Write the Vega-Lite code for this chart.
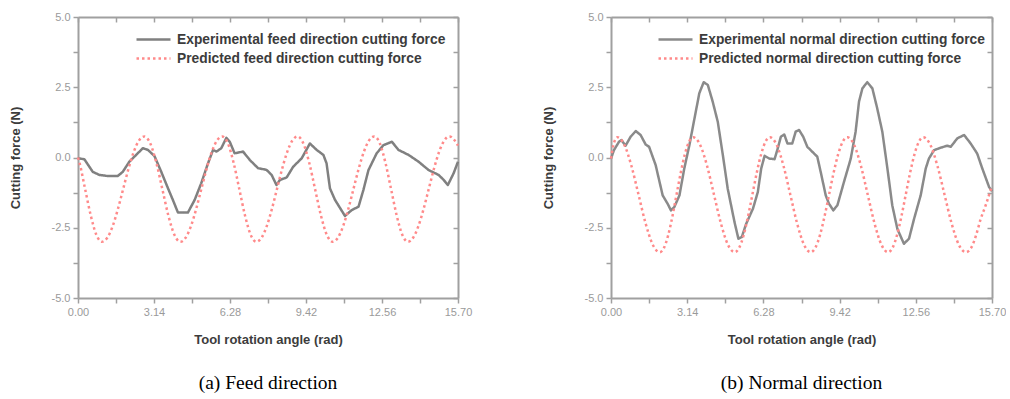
{
  "$schema": "https://vega.github.io/schema/vega-lite/v6.json",
  "background": "white",
  "padding": {"left": 9, "top": 11, "right": 0, "bottom": 0},
  "spacing": 70,
  "config": {
    "view": {"stroke": null},
    "axis": {
      "labelFont": "Liberation Sans", "labelFontSize": 11, "labelColor": "#9a9a9a",
      "titleFont": "Liberation Sans", "titleFontSize": 13, "titleFontWeight": "bold", "titleColor": "#3c3c3c",
      "domainColor": "#a0a0a0", "domainWidth": 2, "tickColor": "#a0a0a0", "tickWidth": 1.5, "tickSize": 5,
      "grid": false, "labelFlush": false, "labelOverlap": false, "labelPadding": 3
    },
    "legend": {
      "orient": "none", "title": null, "labelFont": "Liberation Sans", "labelFontSize": 13.8, "labelFontWeight": "bold",
      "labelColor": "#3c3c3c", "symbolType": "M-2,0H2", "symbolSize": 289, "symbolStrokeWidth": 2.5,
      "symbolFillColor": "transparent", "labelLimit": 400, "rowPadding": 2, "padding": 0, "labelOffset": 13.5
    },
    "title": {"font": "Liberation Serif", "fontSize": 19.5, "fontWeight": "normal", "color": "#000000"}
  },
  "datasets": {
    "feedExp": [
      {"angle": 0, "force": -0.03}, {"angle": 0.26, "force": -0.06}, {"angle": 0.47, "force": -0.33}, {"angle": 0.61, "force": -0.51},
      {"angle": 0.88, "force": -0.62}, {"angle": 1.23, "force": -0.66}, {"angle": 1.64, "force": -0.66}, {"angle": 1.85, "force": -0.51},
      {"angle": 2.12, "force": -0.15}, {"angle": 2.4, "force": 0.09}, {"angle": 2.68, "force": 0.33}, {"angle": 2.89, "force": 0.27},
      {"angle": 3.16, "force": 0.05}, {"angle": 3.44, "force": -0.51}, {"angle": 3.72, "force": -1.1}, {"angle": 3.92, "force": -1.51},
      {"angle": 4.13, "force": -1.96}, {"angle": 4.54, "force": -1.96}, {"angle": 4.82, "force": -1.51}, {"angle": 5.09, "force": -0.92},
      {"angle": 5.37, "force": -0.21}, {"angle": 5.58, "force": 0.27}, {"angle": 5.72, "force": 0.21}, {"angle": 5.92, "force": 0.33},
      {"angle": 6.13, "force": 0.7}, {"angle": 6.27, "force": 0.56}, {"angle": 6.47, "force": 0.15}, {"angle": 6.82, "force": 0.21},
      {"angle": 7.1, "force": -0.09}, {"angle": 7.44, "force": -0.38}, {"angle": 7.79, "force": -0.44}, {"angle": 8.0, "force": -0.62},
      {"angle": 8.2, "force": -0.98}, {"angle": 8.34, "force": -0.8}, {"angle": 8.62, "force": -0.71}, {"angle": 8.89, "force": -0.33},
      {"angle": 9.24, "force": -0.03}, {"angle": 9.58, "force": 0.5}, {"angle": 9.86, "force": 0.27}, {"angle": 10.14, "force": 0.09},
      {"angle": 10.27, "force": -0.21}, {"angle": 10.41, "force": -1.1}, {"angle": 10.62, "force": -1.51}, {"angle": 11.03, "force": -2.08},
      {"angle": 11.31, "force": -1.87}, {"angle": 11.59, "force": -1.75}, {"angle": 11.79, "force": -1.16}, {"angle": 12.0, "force": -0.45},
      {"angle": 12.34, "force": 0.15}, {"angle": 12.62, "force": 0.44}, {"angle": 12.97, "force": 0.56}, {"angle": 13.24, "force": 0.27},
      {"angle": 13.66, "force": 0.09}, {"angle": 14.07, "force": -0.15}, {"angle": 14.49, "force": -0.45}, {"angle": 14.9, "force": -0.62},
      {"angle": 15.11, "force": -0.8}, {"angle": 15.28, "force": -0.98}, {"angle": 15.52, "force": -0.56}, {"angle": 15.7, "force": -0.15}
    ],
    "feedPred": [
      {"angle": 0, "force": 0.0}, {"angle": 0.063, "force": -0.188}, {"angle": 0.295, "force": -1.125}, {"angle": 0.527, "force": -2.063},
      {"angle": 0.758, "force": -2.749}, {"angle": 0.99, "force": -3.0}, {"angle": 1.209, "force": -2.857}, {"angle": 1.428, "force": -2.451},
      {"angle": 1.646, "force": -1.843}, {"angle": 1.865, "force": -1.125}, {"angle": 2.084, "force": -0.407}, {"angle": 2.303, "force": 0.201},
      {"angle": 2.521, "force": 0.607}, {"angle": 2.74, "force": 0.75}, {"angle": 2.988, "force": 0.499}, {"angle": 3.237, "force": -0.188},
      {"angle": 3.485, "force": -1.125}, {"angle": 3.733, "force": -2.063}, {"angle": 3.982, "force": -2.749}, {"angle": 4.23, "force": -3.0},
      {"angle": 4.446, "force": -2.857}, {"angle": 4.663, "force": -2.451}, {"angle": 4.879, "force": -1.843}, {"angle": 5.095, "force": -1.125},
      {"angle": 5.311, "force": -0.407}, {"angle": 5.528, "force": 0.201}, {"angle": 5.744, "force": 0.607}, {"angle": 5.96, "force": 0.75},
      {"angle": 6.195, "force": 0.499}, {"angle": 6.43, "force": -0.188}, {"angle": 6.665, "force": -1.125}, {"angle": 6.9, "force": -2.063},
      {"angle": 7.135, "force": -2.749}, {"angle": 7.37, "force": -3.0}, {"angle": 7.583, "force": -2.857}, {"angle": 7.795, "force": -2.451},
      {"angle": 8.008, "force": -1.843}, {"angle": 8.22, "force": -1.125}, {"angle": 8.433, "force": -0.407}, {"angle": 8.645, "force": 0.201},
      {"angle": 8.858, "force": 0.607}, {"angle": 9.07, "force": 0.75}, {"angle": 9.312, "force": 0.499}, {"angle": 9.553, "force": -0.188},
      {"angle": 9.795, "force": -1.125}, {"angle": 10.037, "force": -2.063}, {"angle": 10.278, "force": -2.749}, {"angle": 10.52, "force": -3.0},
      {"angle": 10.735, "force": -2.857}, {"angle": 10.95, "force": -2.451}, {"angle": 11.165, "force": -1.843}, {"angle": 11.38, "force": -1.125},
      {"angle": 11.595, "force": -0.407}, {"angle": 11.81, "force": 0.201}, {"angle": 12.025, "force": 0.607}, {"angle": 12.24, "force": 0.75},
      {"angle": 12.472, "force": 0.499}, {"angle": 12.703, "force": -0.188}, {"angle": 12.935, "force": -1.125}, {"angle": 13.167, "force": -2.063},
      {"angle": 13.398, "force": -2.749}, {"angle": 13.63, "force": -3.0}, {"angle": 13.845, "force": -2.857}, {"angle": 14.06, "force": -2.451},
      {"angle": 14.275, "force": -1.843}, {"angle": 14.49, "force": -1.125}, {"angle": 14.705, "force": -0.407}, {"angle": 14.92, "force": 0.201},
      {"angle": 15.135, "force": 0.607}, {"angle": 15.35, "force": 0.75}, {"angle": 15.55, "force": 0.62}, {"angle": 15.7, "force": 0.42}
    ],
    "normalExp": [
      {"angle": 0, "force": -0.04}, {"angle": 0.12, "force": 0.26}, {"angle": 0.33, "force": 0.56}, {"angle": 0.43, "force": 0.62},
      {"angle": 0.6, "force": 0.42}, {"angle": 0.81, "force": 0.74}, {"angle": 1.02, "force": 0.94}, {"angle": 1.22, "force": 0.8},
      {"angle": 1.43, "force": 0.46}, {"angle": 1.57, "force": 0.38}, {"angle": 1.84, "force": -0.27}, {"angle": 2.13, "force": -1.35},
      {"angle": 2.33, "force": -1.64}, {"angle": 2.47, "force": -1.88}, {"angle": 2.61, "force": -1.76}, {"angle": 2.82, "force": -1.35},
      {"angle": 3.02, "force": -0.39}, {"angle": 3.23, "force": 0.44}, {"angle": 3.44, "force": 1.39}, {"angle": 3.64, "force": 2.29},
      {"angle": 3.82, "force": 2.68}, {"angle": 3.99, "force": 2.58}, {"angle": 4.19, "force": 1.99}, {"angle": 4.4, "force": 1.27},
      {"angle": 4.61, "force": 0.08}, {"angle": 4.81, "force": -1.11}, {"angle": 5.09, "force": -2.3}, {"angle": 5.25, "force": -2.89},
      {"angle": 5.39, "force": -2.83}, {"angle": 5.57, "force": -2.36}, {"angle": 5.85, "force": -1.82}, {"angle": 6.05, "force": -1.23},
      {"angle": 6.19, "force": -0.39}, {"angle": 6.33, "force": 0.06}, {"angle": 6.53, "force": -0.04}, {"angle": 6.74, "force": -0.06},
      {"angle": 6.87, "force": 0.32}, {"angle": 7.0, "force": 0.74}, {"angle": 7.14, "force": 0.82}, {"angle": 7.27, "force": 0.5},
      {"angle": 7.47, "force": 0.5}, {"angle": 7.61, "force": 0.92}, {"angle": 7.75, "force": 0.98}, {"angle": 7.92, "force": 0.74},
      {"angle": 8.09, "force": 0.38}, {"angle": 8.37, "force": 0.14}, {"angle": 8.5, "force": 0.03}, {"angle": 8.64, "force": -0.51},
      {"angle": 8.85, "force": -1.35}, {"angle": 8.98, "force": -1.64}, {"angle": 9.16, "force": -1.88}, {"angle": 9.33, "force": -1.7},
      {"angle": 9.6, "force": -0.87}, {"angle": 9.88, "force": -0.04}, {"angle": 10.08, "force": 0.92}, {"angle": 10.22, "force": 1.99},
      {"angle": 10.36, "force": 2.46}, {"angle": 10.56, "force": 2.68}, {"angle": 10.77, "force": 2.46}, {"angle": 10.97, "force": 1.75},
      {"angle": 11.18, "force": 0.92}, {"angle": 11.39, "force": -0.39}, {"angle": 11.59, "force": -1.7}, {"angle": 11.8, "force": -2.54},
      {"angle": 12.07, "force": -3.07}, {"angle": 12.28, "force": -2.89}, {"angle": 12.49, "force": -2.18}, {"angle": 12.76, "force": -1.35},
      {"angle": 12.97, "force": -0.39}, {"angle": 13.1, "force": -0.04}, {"angle": 13.31, "force": 0.26}, {"angle": 13.59, "force": 0.35},
      {"angle": 13.86, "force": 0.42}, {"angle": 14.0, "force": 0.38}, {"angle": 14.27, "force": 0.68}, {"angle": 14.55, "force": 0.8},
      {"angle": 14.82, "force": 0.5}, {"angle": 15.09, "force": 0.14}, {"angle": 15.3, "force": -0.39}, {"angle": 15.58, "force": -1.05},
      {"angle": 15.7, "force": -1.2}
    ],
    "normalPred": [
      {"angle": 0, "force": -0.04}, {"angle": 0.1, "force": 0.45}, {"angle": 0.26, "force": 0.72}, {"angle": 0.552, "force": 0.446},
      {"angle": 0.843, "force": -0.303}, {"angle": 1.135, "force": -1.325}, {"angle": 1.427, "force": -2.348}, {"angle": 1.718, "force": -3.096},
      {"angle": 2.01, "force": -3.37}, {"angle": 2.183, "force": -3.215}, {"angle": 2.355, "force": -2.771}, {"angle": 2.528, "force": -2.108},
      {"angle": 2.7, "force": -1.325}, {"angle": 2.873, "force": -0.542}, {"angle": 3.045, "force": 0.121}, {"angle": 3.218, "force": 0.565},
      {"angle": 3.39, "force": 0.72}, {"angle": 3.675, "force": 0.446}, {"angle": 3.96, "force": -0.303}, {"angle": 4.245, "force": -1.325},
      {"angle": 4.53, "force": -2.348}, {"angle": 4.815, "force": -3.096}, {"angle": 5.1, "force": -3.37}, {"angle": 5.281, "force": -3.215},
      {"angle": 5.463, "force": -2.771}, {"angle": 5.644, "force": -2.108}, {"angle": 5.825, "force": -1.325}, {"angle": 6.006, "force": -0.542},
      {"angle": 6.188, "force": 0.121}, {"angle": 6.369, "force": 0.565}, {"angle": 6.55, "force": 0.72}, {"angle": 6.83, "force": 0.446},
      {"angle": 7.11, "force": -0.303}, {"angle": 7.39, "force": -1.325}, {"angle": 7.67, "force": -2.348}, {"angle": 7.95, "force": -3.096},
      {"angle": 8.23, "force": -3.37}, {"angle": 8.419, "force": -3.215}, {"angle": 8.608, "force": -2.771}, {"angle": 8.796, "force": -2.108},
      {"angle": 8.985, "force": -1.325}, {"angle": 9.174, "force": -0.542}, {"angle": 9.363, "force": 0.121}, {"angle": 9.551, "force": 0.565},
      {"angle": 9.74, "force": 0.72}, {"angle": 10.02, "force": 0.446}, {"angle": 10.3, "force": -0.303}, {"angle": 10.58, "force": -1.325},
      {"angle": 10.86, "force": -2.348}, {"angle": 11.14, "force": -3.096}, {"angle": 11.42, "force": -3.37}, {"angle": 11.601, "force": -3.215},
      {"angle": 11.783, "force": -2.771}, {"angle": 11.964, "force": -2.108}, {"angle": 12.145, "force": -1.325}, {"angle": 12.326, "force": -0.542},
      {"angle": 12.508, "force": 0.121}, {"angle": 12.689, "force": 0.565}, {"angle": 12.87, "force": 0.72}, {"angle": 13.162, "force": 0.446},
      {"angle": 13.453, "force": -0.303}, {"angle": 13.745, "force": -1.325}, {"angle": 14.037, "force": -2.348}, {"angle": 14.328, "force": -3.096},
      {"angle": 14.62, "force": -3.37}, {"angle": 14.85, "force": -3.2}, {"angle": 15.05, "force": -2.75}, {"angle": 15.23, "force": -2.2},
      {"angle": 15.44, "force": -1.7}, {"angle": 15.7, "force": -1.0}
    ]
  },
  "resolve": {
    "scale": {"color": "independent", "strokeDash": "independent"},
    "legend": {"color": "independent", "strokeDash": "independent"}
  },
  "hconcat": [
    {
      "width": 380,
      "height": 281,
      "title": {"text": "(a) Feed direction", "orient": "bottom", "frame": "group", "anchor": "middle", "offset": 28},
      "layer": [
        {
          "data": {"name": "feedExp"},
          "mark": {"type": "line", "strokeWidth": 2.5, "strokeJoin": "round"},
          "encoding": {
            "x": {"field": "angle", "type": "quantitative", "scale": {"domain": [0, 15.7], "nice": false, "zero": false},
              "axis": {"orient": "bottom", "title": "Tool rotation angle (rad)", "titlePadding": 16,
                "values": [0, 1.57, 3.14, 4.71, 6.28, 7.85, 9.42, 10.99, 12.56, 14.13, 15.7],
                "labelExpr": "indexof([0, 3.14, 6.28, 9.42, 12.56, 15.7], datum.value) >= 0 ? format(datum.value, '.2f') : ''"}},
            "y": {"field": "force", "type": "quantitative", "scale": {"domain": [-5, 5], "nice": false, "zero": false},
              "axis": {"orient": "left", "title": "Cutting force (N)", "titlePadding": 29,
                "values": [-5, -3.75, -2.5, -1.25, 0, 1.25, 2.5, 3.75, 5],
                "labelExpr": "datum.value % 2.5 === 0 ? (datum.value < 0 ? '-' : '') + format(abs(datum.value), '.1f') : ''"}},
            "color": {"datum": "Experimental feed direction cutting force", "type": "nominal",
              "scale": {"domain": ["Experimental feed direction cutting force", "Predicted feed direction cutting force"], "range": ["#808080", "#ff8a8a"]},
              "legend": {"legendX": 65.5, "legendY": 12.5}},
            "strokeDash": {"datum": "Experimental feed direction cutting force", "type": "nominal",
              "scale": {"domain": ["Experimental feed direction cutting force", "Predicted feed direction cutting force"], "range": [[1, 0], [2.5, 3]]},
              "legend": {"legendX": 65.5, "legendY": 12.5}}
          }
        },
        {
          "data": {"name": "feedPred"},
          "mark": {"type": "line", "strokeWidth": 2.5, "interpolate": "monotone"},
          "encoding": {
            "x": {"field": "angle", "type": "quantitative", "scale": {"domain": [0, 15.7], "nice": false, "zero": false},
              "axis": {"orient": "top", "title": null, "labels": false, "tickSize": -5,
                "values": [0, 1.57, 3.14, 4.71, 6.28, 7.85, 9.42, 10.99, 12.56, 14.13, 15.7]}},
            "y": {"field": "force", "type": "quantitative", "scale": {"domain": [-5, 5], "nice": false, "zero": false},
              "axis": {"orient": "right", "title": null, "labels": false, "tickSize": -5,
                "values": [-5, -3.75, -2.5, -1.25, 0, 1.25, 2.5, 3.75, 5]}},
            "color": {"datum": "Predicted feed direction cutting force", "type": "nominal",
              "scale": {"domain": ["Experimental feed direction cutting force", "Predicted feed direction cutting force"], "range": ["#808080", "#ff8a8a"]},
              "legend": {"legendX": 65.5, "legendY": 12.5}},
            "strokeDash": {"datum": "Predicted feed direction cutting force", "type": "nominal",
              "scale": {"domain": ["Experimental feed direction cutting force", "Predicted feed direction cutting force"], "range": [[1, 0], [2.5, 3]]},
              "legend": {"legendX": 65.5, "legendY": 12.5}}
          }
        }
      ],
      "resolve": {"axis": {"x": "independent", "y": "independent"}}
    },
    {
      "width": 381,
      "height": 281,
      "title": {"text": "(b) Normal direction", "orient": "bottom", "frame": "group", "anchor": "middle", "offset": 28},
      "layer": [
        {
          "data": {"name": "normalExp"},
          "mark": {"type": "line", "strokeWidth": 2.5, "strokeJoin": "round"},
          "encoding": {
            "x": {"field": "angle", "type": "quantitative", "scale": {"domain": [0, 15.7], "nice": false, "zero": false},
              "axis": {"orient": "bottom", "title": "Tool rotation angle (rad)", "titlePadding": 16,
                "values": [0, 1.57, 3.14, 4.71, 6.28, 7.85, 9.42, 10.99, 12.56, 14.13, 15.7],
                "labelExpr": "indexof([0, 3.14, 6.28, 9.42, 12.56, 15.7], datum.value) >= 0 ? format(datum.value, '.2f') : ''"}},
            "y": {"field": "force", "type": "quantitative", "scale": {"domain": [-5, 5], "nice": false, "zero": false},
              "axis": {"orient": "left", "title": "Cutting force (N)", "titlePadding": 29,
                "values": [-5, -3.75, -2.5, -1.25, 0, 1.25, 2.5, 3.75, 5],
                "labelExpr": "datum.value % 2.5 === 0 ? (datum.value < 0 ? '-' : '') + format(abs(datum.value), '.1f') : ''"}},
            "color": {"datum": "Experimental normal direction cutting force", "type": "nominal",
              "scale": {"domain": ["Experimental normal direction cutting force", "Predicted normal direction cutting force"], "range": ["#8a8a8a", "#ff8a8a"]},
              "legend": {"legendX": 54.5, "legendY": 12.5}},
            "strokeDash": {"datum": "Experimental normal direction cutting force", "type": "nominal",
              "scale": {"domain": ["Experimental normal direction cutting force", "Predicted normal direction cutting force"], "range": [[1, 0], [2.5, 3]]},
              "legend": {"legendX": 54.5, "legendY": 12.5}}
          }
        },
        {
          "data": {"name": "normalPred"},
          "mark": {"type": "line", "strokeWidth": 2.5, "interpolate": "monotone"},
          "encoding": {
            "x": {"field": "angle", "type": "quantitative", "scale": {"domain": [0, 15.7], "nice": false, "zero": false},
              "axis": {"orient": "top", "title": null, "labels": false, "tickSize": -5,
                "values": [0, 1.57, 3.14, 4.71, 6.28, 7.85, 9.42, 10.99, 12.56, 14.13, 15.7]}},
            "y": {"field": "force", "type": "quantitative", "scale": {"domain": [-5, 5], "nice": false, "zero": false},
              "axis": {"orient": "right", "title": null, "labels": false, "tickSize": -5,
                "values": [-5, -3.75, -2.5, -1.25, 0, 1.25, 2.5, 3.75, 5]}},
            "color": {"datum": "Predicted normal direction cutting force", "type": "nominal",
              "scale": {"domain": ["Experimental normal direction cutting force", "Predicted normal direction cutting force"], "range": ["#8a8a8a", "#ff8a8a"]},
              "legend": {"legendX": 54.5, "legendY": 12.5}},
            "strokeDash": {"datum": "Predicted normal direction cutting force", "type": "nominal",
              "scale": {"domain": ["Experimental normal direction cutting force", "Predicted normal direction cutting force"], "range": [[1, 0], [2.5, 3]]},
              "legend": {"legendX": 54.5, "legendY": 12.5}}
          }
        }
      ],
      "resolve": {"axis": {"x": "independent", "y": "independent"}}
    }
  ]
}
